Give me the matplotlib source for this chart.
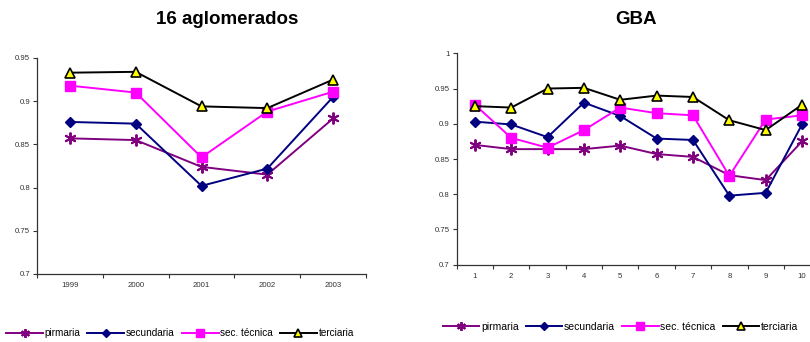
import matplotlib
matplotlib.use("Agg")
import matplotlib.pyplot as plt
from matplotlib.ticker import FixedLocator, NullFormatter

plt.rcParams['font.family'] = ['Liberation Sans', 'DejaVu Sans']

# 16 aglomerados
years = ["1999", "2000", "2001", "2002", "2003"]
agl_pirmaria = [0.857, 0.855, 0.824, 0.815, 0.880]
agl_secundaria = [0.876, 0.874, 0.802, 0.822, 0.905]
agl_tecnica = [0.918, 0.910, 0.835, 0.888, 0.911]
agl_terciaria = [0.933, 0.934, 0.894, 0.892, 0.925]

# GBA
ondas = ["1", "2", "3", "4", "5", "6", "7", "8", "9", "10"]
gba_pirmaria = [0.870, 0.864, 0.864, 0.864, 0.869, 0.857, 0.853, 0.827, 0.820, 0.875]
gba_secundaria = [0.903, 0.899, 0.881, 0.930, 0.911, 0.879, 0.877, 0.798, 0.802, 0.899]
gba_tecnica = [0.927, 0.880, 0.866, 0.891, 0.923, 0.915, 0.912, 0.826, 0.906, 0.912]
gba_terciaria = [0.925, 0.923, 0.950, 0.951, 0.934, 0.940, 0.938, 0.905, 0.891, 0.927]

series_names = ["pirmaria", "secundaria", "sec. técnica", "terciaria"]

styles = [
    dict(color="#800080", marker=(6, 2, 0), markersize=8.5, markeredgewidth=1.4,
         markeredgecolor="#800080"),
    dict(color="#000080", marker="D", markersize=5.5, markerfacecolor="#000080",
         markeredgecolor="#000080"),
    dict(color="#FF00FF", marker="s", markersize=7.5, markerfacecolor="#FF00FF",
         markeredgecolor="#FF00FF"),
    dict(color="#000000", marker="^", markersize=7.2, markerfacecolor="#FFFF00",
         markeredgecolor="#000000", markeredgewidth=1.2),
]

fig = plt.figure(figsize=(8.1, 3.42), dpi=100)

ax1 = fig.add_axes([37 / 810, 1 - 274 / 342, 329 / 810, 216 / 342])
ax2 = fig.add_axes([456.7 / 810, 1 - 264.7 / 342, 363.5 / 810, 211.4 / 342])


def draw(ax, cats, data, yticks, ylabels, title, title_x):
    x = list(range(len(cats)))
    for vals, st, name in zip(data, styles, series_names):
        ax.plot(x, vals, linewidth=1.4, label=name, clip_on=False, **st)
    ax.set_xlim(-0.5, len(cats) - 0.5)
    ax.set_ylim(yticks[0], yticks[-1])
    ax.set_yticks(yticks)
    ax.set_yticklabels(ylabels)
    ax.xaxis.set_major_locator(FixedLocator(x))
    ax.set_xticklabels(cats)
    ax.xaxis.set_minor_locator(FixedLocator([i - 0.5 for i in range(len(cats) + 1)]))
    ax.xaxis.set_minor_formatter(NullFormatter())
    ax.tick_params(axis="x", which="major", length=0, pad=6, labelsize=5.6,
                   labelcolor="#333333")
    ax.tick_params(axis="x", which="minor", length=3, width=0.8, direction="out",
                   color="#333333")
    ax.tick_params(axis="y", length=3, width=0.8, direction="out", pad=2,
                   labelsize=5.6, labelcolor="#333333", color="#333333")
    for s in ("top", "right"):
        ax.spines[s].set_visible(False)
    for s in ("left", "bottom"):
        ax.spines[s].set_color("#333333")
        ax.spines[s].set_linewidth(0.9)
    fig.text(title_x, 1 - 20 / 342, title, ha="center", va="center",
             fontsize=13.5, fontweight="bold")


draw(ax1, years, [agl_pirmaria, agl_secundaria, agl_tecnica, agl_terciaria],
     [0.7, 0.75, 0.8, 0.85, 0.9, 0.95],
     ["0.7", "0.75", "0.8", "0.85", "0.9", "0.95"],
     "16 aglomerados", 227 / 810)
draw(ax2, ondas, [gba_pirmaria, gba_secundaria, gba_tecnica, gba_terciaria],
     [0.7, 0.75, 0.8, 0.85, 0.9, 0.95, 1.0],
     ["0.7", "0.75", "0.8", "0.85", "0.9", "0.95", "1"],
     "GBA", 636 / 810)

# legend handles with slightly smaller markers
hs = []
for st, name in zip(styles, series_names):
    st2 = dict(st)
    st2["markersize"] = st2["markersize"] * 0.75
    h, = ax1.plot([], [], linewidth=1.4, label=name, **st2)
    hs.append(h)

fig.legend(handles=hs, labels=series_names, loc="center left",
           bbox_to_anchor=(6 / 810, 1 - 333 / 342), ncol=4, frameon=False,
           fontsize=7.2, handlelength=3.7, handletextpad=0.15, columnspacing=0.7,
           borderaxespad=0, borderpad=0)
fig.legend(handles=hs, labels=series_names, loc="center left",
           bbox_to_anchor=(443 / 810, 1 - 326.7 / 342), ncol=4, frameon=False,
           fontsize=7.5, handlelength=3.5, handletextpad=0.15, columnspacing=0.7,
           borderaxespad=0, borderpad=0)

fig.savefig("out.png", dpi=100)
